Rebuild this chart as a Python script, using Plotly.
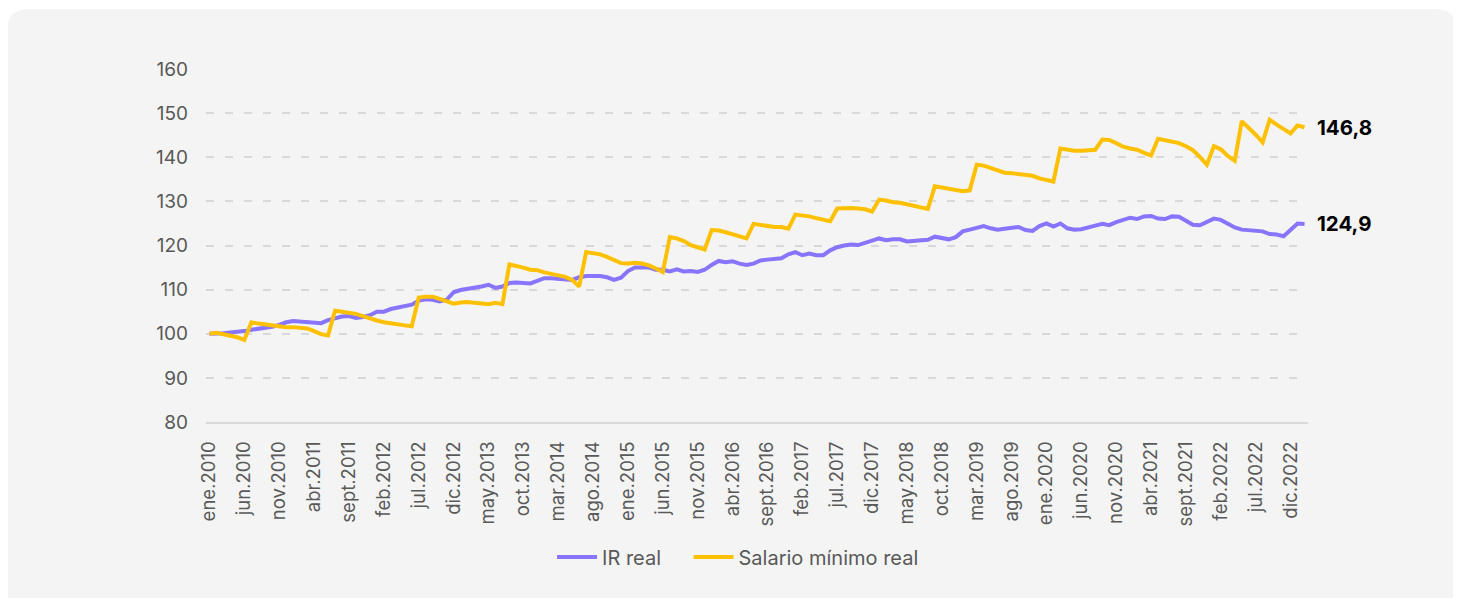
import plotly.graph_objects as go

# ---------------- data ----------------
month_abbr = ["ene", "feb", "mar", "abr", "may", "jun", "jul", "ago", "sept", "oct", "nov", "dic"]
periods = [f"{m}.{y}" for y in range(2010, 2024) for m in month_abbr][:158]

ir_real = [
    100.0, 100.0, 100.1, 100.3, 100.4, 100.6, 100.9, 101.1, 101.3, 101.6,
    102.0, 102.6, 102.9, 102.8, 102.7, 102.7, 102.4, 103.1, 103.6, 103.9,
    104.0, 103.6, 103.8, 104.2, 105.0, 105.0, 105.6, 105.9, 106.1, 106.6,
    107.5, 107.8, 107.7, 107.3, 107.7, 109.4, 109.9, 110.1, 110.3, 110.7,
    111.1, 110.4, 110.7, 111.5, 111.6, 111.6, 111.4, 112.0, 112.6, 112.6,
    112.5, 112.4, 112.2, 112.8, 113.1, 113.1, 113.1, 112.8, 112.2, 112.7,
    114.2, 115.0, 115.1, 115.0, 114.5, 114.5, 114.1, 114.6, 114.1, 114.2,
    114.0, 114.5, 115.6, 116.5, 116.2, 116.4, 115.9, 115.6, 115.9, 116.6,
    116.8, 116.9, 117.1, 118.0, 118.5, 117.8, 118.2, 117.8, 117.8, 118.9,
    119.6, 120.0, 120.2, 120.1, 120.5, 121.1, 121.6, 121.2, 121.4, 121.4,
    120.9, 121.0, 121.1, 121.3, 122.0, 121.6, 121.4, 121.9, 123.2, 123.6,
    124.0, 124.4, 123.9, 123.6, 123.8, 124.1, 124.2, 123.5, 123.3, 124.4,
    125.0, 124.3, 125.0, 123.9, 123.6, 123.7, 124.2, 124.5, 124.9, 124.6,
    125.3, 125.9, 126.3, 126.0, 126.6, 126.7, 126.1, 126.0, 126.6, 126.5,
    125.7, 124.7, 124.6, 125.3, 126.1, 125.8, 125.0, 124.1, 123.6, 123.5,
    123.3, 123.2, 122.6, 122.5, 122.1, 123.5, 125.0, 124.9,
]

salario_minimo_real = [
    100.0, 100.2, 99.9, 99.6, 99.2, 98.6, 102.6, 102.3, 102.1, 101.8,
    101.6, 101.5, 101.5, 101.3, 101.2, 100.6, 99.9, 99.6, 105.2, 105.0,
    104.8, 104.5, 104.0, 103.4, 103.0, 102.6, 102.3, 102.0, 101.9, 101.7,
    108.2, 108.4, 108.4, 107.9, 107.3, 106.8, 107.1, 107.2, 107.0, 106.9,
    106.7, 107.0, 106.7, 115.7, 115.4, 115.0, 114.5, 114.4, 113.9, 113.6,
    113.3, 112.9, 112.2, 110.7, 118.5, 118.3, 118.0, 117.4, 116.6, 116.0,
    115.9, 116.1, 115.9, 115.5, 114.8, 114.0, 121.9, 121.6, 121.0, 120.1,
    119.6, 119.1, 123.5, 123.4, 123.0, 122.6, 122.1, 121.6, 124.9, 124.7,
    124.3, 124.2, 124.2, 123.8, 127.0, 126.9, 126.6, 126.2, 125.9, 125.5,
    128.4, 128.5, 128.5, 128.4, 128.2, 127.7, 130.4, 130.2, 129.8, 129.7,
    129.4, 128.9, 128.6, 128.3, 133.4, 133.1, 132.8, 132.4, 132.3, 132.5,
    138.3, 138.1, 137.6, 137.2, 136.5, 136.4, 136.2, 136.0, 135.8, 135.2,
    134.8, 134.5, 142.0, 141.7, 141.5, 141.5, 141.6, 141.7, 144.0, 143.9,
    143.2, 142.4, 142.0, 141.7, 141.0, 140.4, 144.2, 143.8, 143.6, 143.2,
    142.5, 141.6, 140.1, 138.3, 142.5, 141.8, 140.3, 139.2, 148.2, 146.8,
    145.1, 143.4, 148.5, 147.4, 146.5, 145.4, 147.2, 146.8,
]

series_names = ["IR real", "Salario mínimo real"]
series_colors = ["#8774FF", "#FFC000"]
end_labels = ["124,9", "146,8"]
y_ticks = [80, 90, 100, 110, 120, 130, 140, 150, 160]
x_tick_labels = periods[::5]

# ---------------- layout geometry ----------------
# the page body adds an 8px offset, so figure coords = page coords - 8
OFF = 8
W, H = 1461 - OFF, 598 - OFF
ML, MR, MT, MB = 206 - OFF, 153, 69 - OFF, 176
PW, PH = W - ML - MR, H - MT - MB


def px(xp):
    """page x pixel -> paper fraction"""
    return (xp - OFF - ML) / PW


def py(yp):
    """page y pixel -> paper fraction"""
    return (H - MB - (yp - OFF)) / PH


FONT = "Inter, Lato, 'Open Sans', sans-serif"
GRAY = "#595959"
LEGEND_PAD = ["\u00a0" * 4, ""]  # extra spacing between legend entries

fig = go.Figure()
for name, pad, vals, col in zip(series_names, LEGEND_PAD,
                                [ir_real, salario_minimo_real], series_colors):
    fig.add_trace(go.Scatter(
        x=periods, y=vals, name=name + pad, mode="lines",
        line=dict(color=col, width=4),
        hovertemplate=name + ": %{y}<extra></extra>",
    ))

for vals, lab in zip([ir_real, salario_minimo_real], end_labels):
    fig.add_annotation(
        x=periods[-1], y=vals[-1], text=f"<b>{lab}</b>", showarrow=False,
        xanchor="left", yanchor="middle", xshift=10,
        font=dict(family=FONT, size=20.5, color="#000000"),
    )

# rounded light-gray card behind the chart (page pixel coordinates)
x0, x1, y0, y1, r = 7, 1457, 9, 640, 22
path = (
    f"M {px(x0 + r)},{py(y0)} L {px(x1 - r)},{py(y0)} "
    f"Q {px(x1)},{py(y0)} {px(x1)},{py(y0 + r)} "
    f"L {px(x1)},{py(y1)} L {px(x0)},{py(y1)} "
    f"L {px(x0)},{py(y0 + r)} Q {px(x0)},{py(y0)} {px(x0 + r)},{py(y0)} Z"
)
fig.add_shape(type="path", path=path, xref="paper", yref="paper",
              fillcolor="#F4F4F4", line=dict(width=0), layer="below")

fig.update_layout(
    width=W, height=H,
    margin=dict(l=ML, r=MR, t=MT, b=MB, pad=0),
    paper_bgcolor="#FFFFFF",
    plot_bgcolor="rgba(0,0,0,0)",
    font=dict(family=FONT, color=GRAY, size=18),
    showlegend=True,
    legend=dict(
        orientation="h", x=px(557) - 0.0045, y=py(557), xanchor="left", yanchor="middle",
        font=dict(family=FONT, size=20, color=GRAY),
        bgcolor="rgba(0,0,0,0)", itemwidth=40,
    ),
    xaxis=dict(
        type="category", range=[-0.5, len(periods) - 0.5],
        tickmode="array", tickvals=x_tick_labels, ticktext=x_tick_labels,
        tickangle=-90, showgrid=False, showline=True,
        linecolor="#D9D9D9", linewidth=2, ticks="",
        ticklabelstandoff=10,
        tickfont=dict(family=FONT, size=18.5, color=GRAY),
        zeroline=False,
    ),
    yaxis=dict(
        range=[80, 160], tickmode="array", tickvals=y_ticks,
        showgrid=True, gridcolor="#D9D9D9", griddash="8px,11px", gridwidth=1.5,
        zeroline=False, showline=False, ticks="",
        ticklabelstandoff=17,
        tickfont=dict(family=FONT, size=19, color=GRAY),
    ),
)

fig.write_html("out.html")
